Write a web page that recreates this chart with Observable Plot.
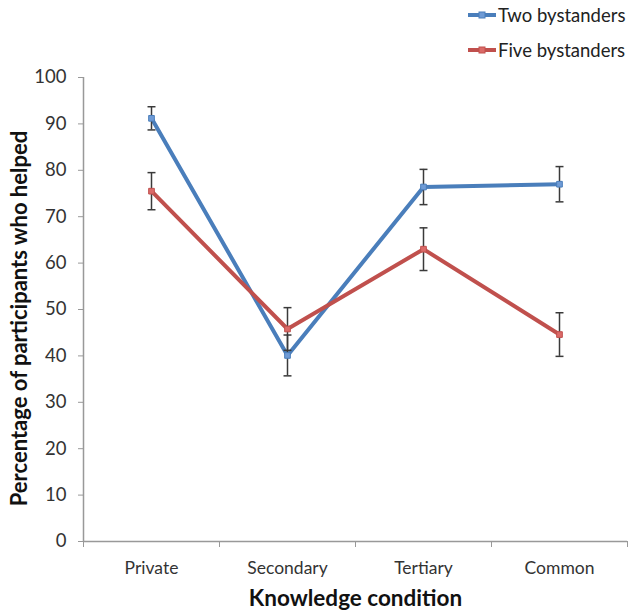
<!DOCTYPE html>
<html><head><meta charset="utf-8">
<script src="https://cdn.jsdelivr.net/npm/d3@7"></script>
<script src="https://cdn.jsdelivr.net/npm/@observablehq/plot@0.6"></script>
<style>
body{margin:0;background:#fff;font-family:Lato,sans-serif}
#wrap{position:relative;width:628px;height:613px}
#legend{position:absolute;left:466px;top:0;font-size:18.5px;color:#222}
.item{position:absolute;left:0;white-space:nowrap;display:flex;align-items:center}
</style>
</head><body><div id="wrap"><div id="legend"></div></div>
<script>
const categories = ["Private", "Secondary", "Tertiary", "Common"];
const seriesNames = ["Two bystanders", "Five bystanders"];
const twoMean = [91.2, 40.1, 76.4, 77.0];
const twoErr  = [2.5, 4.4, 3.8, 3.8];
const fiveMean = [75.5, 45.8, 63.0, 44.6];
const fiveErr  = [4.0, 4.6, 4.6, 4.7];
const yTicks = [0, 10, 20, 30, 40, 50, 60, 70, 80, 90, 100];
const colors = ["#4A7EBB", "#C0504D"];
const markerFill = ["#6F9BD6", "#DB6A68"];

const rows = [];
[[twoMean, twoErr], [fiveMean, fiveErr]].forEach(([m, e], s) => {
  categories.forEach((c, i) => rows.push({series: seriesNames[s], pos: i + 1, v: m[i], lo: m[i] - e[i], hi: m[i] + e[i]}));
});

const capSymbol = {draw(ctx, size) { const w = Math.sqrt(size); ctx.moveTo(-w / 2, 0); ctx.lineTo(w / 2, 0); }};

const plot = Plot.plot({
  width: 628, height: 613,
  marginLeft: 83, marginRight: 1, marginTop: 77, marginBottom: 72,
  style: {fontFamily: "Lato,sans-serif", fontSize: "17px", color: "#333", background: "transparent", overflow: "visible"},
  x: {domain: [0.5, 4.5]},
  y: {domain: [0, 100]},
  color: {domain: seriesNames, range: colors},
  marks: [
    Plot.axisY({ticks: yTicks, tickSize: 5, tickPadding: 12, stroke: "#999", fontSize: 18.5, label: null}),
    Plot.axisX({ticks: [1, 2, 3, 4], tickSize: 0, tickPadding: 20, tickFormat: d => categories[d - 1], label: null, fontSize: 17.5}),
    Plot.axisX({ticks: [0.5, 1.5, 2.5, 3.5, 4.5], tickSize: 6, tickFormat: () => "", stroke: "#999", label: null}),
    Plot.ruleY([0], {stroke: "#999", strokeWidth: 1.5}),
    Plot.ruleX([0.5], {stroke: "#999", strokeWidth: 1.5}),
    Plot.line(rows, {x: "pos", y: "v", z: "series", stroke: "series", strokeWidth: 4, curve: "linear"}),
    Plot.ruleX(rows, {x: "pos", y1: "lo", y2: "hi", stroke: "#3a3a3a", strokeWidth: 1.5}),
    Plot.dot(rows, {x: "pos", y: "lo", symbol: capSymbol, r: 4.5, stroke: "#3a3a3a", strokeWidth: 1.5}),
    Plot.dot(rows, {x: "pos", y: "hi", symbol: capSymbol, r: 4.5, stroke: "#3a3a3a", strokeWidth: 1.5}),
    Plot.dot(rows, {x: "pos", y: "v", symbol: "square", r: 3.2, fill: d => markerFill[seriesNames.indexOf(d.series)], stroke: "series", strokeWidth: 1}),
    Plot.text(["Knowledge condition"], {frameAnchor: "bottom", lineAnchor: "middle", textAnchor: "middle", dx: 0, dy: 57, fontWeight: "bold", fontSize: 22.5, fill: "#111"}),
    Plot.text(["Percentage of participants who helped"], {frameAnchor: "left", lineAnchor: "middle", textAnchor: "middle", rotate: -90, dx: -64, dy: 9, fontWeight: "bold", fontSize: 22, fill: "#111"})
  ]
});
document.getElementById("wrap").prepend(plot);
plot.style.position = "absolute"; plot.style.left = "0"; plot.style.top = "0";

const legend = document.getElementById("legend");
seriesNames.forEach((name, i) => {
  const item = document.createElement("div");
  item.className = "item";
  item.style.top = (i === 0 ? 3 : 38) + "px";
  item.innerHTML = `<svg width="32" height="24"><line x1="2" x2="30" y1="12" y2="12" stroke="${colors[i]}" stroke-width="4"/><rect x="13" y="9" width="6" height="6" fill="${markerFill[i]}" stroke="${colors[i]}"/></svg><span>${name}</span>`;
  legend.appendChild(item);
});
</script>
</body></html>
